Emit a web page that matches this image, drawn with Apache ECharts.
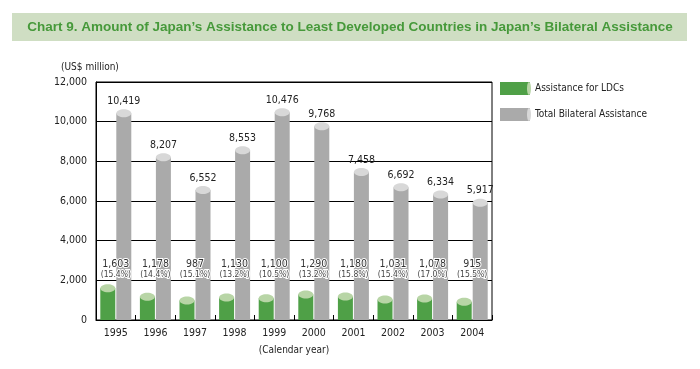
<!DOCTYPE html>
<html><head><meta charset="utf-8">
<script src="https://cdn.jsdelivr.net/npm/echarts@6/dist/echarts.min.js"></script>
<style>html,body{margin:0;padding:0;background:#fff}#c{width:700px;height:369px}</style>
</head><body><div id="c"></div>
<script>
var years = ['1995','1996','1997','1998','1999','2000','2001','2002','2003','2004'];
var ldc = [1603,1178,987,1130,1100,1290,1180,1031,1078,915];
var total = [10419,8207,6552,8553,10476,9768,7458,6692,6334,5917];
var ldcShare = ['15.4%','14.4%','15.1%','13.2%','10.5%','13.2%','15.8%','15.4%','17.0%','15.5%'];
var yTicks = [0,2000,4000,6000,8000,10000,12000];

var FONT = '"DejaVu Sans Condensed","Liberation Sans",sans-serif';
var TFONT = '"Liberation Sans",sans-serif';
var fmt = function(v){ return v.toLocaleString('en-US'); };

function cyl(offset, body, top, labelFn){
  return function(params, api){
    var i = api.value(0), v = api.value(1);
    var p = api.coord([i, v]), b = api.coord([i, 0]);
    var cx = p[0] + offset, w = 15, ry = 4;
    var kids = [
      {type:'rect', shape:{x:cx-w/2, y:p[1], width:w, height:b[1]-p[1]}, style:{fill:body}},
      {type:'ellipse', shape:{cx:cx, cy:p[1], rx:w/2, ry:ry}, style:{fill:top}}
    ];
    return {type:'group', children: kids.concat(labelFn(i, v, p, b))};
  };
}

var chart = echarts.init(document.getElementById('c'));
chart.setOption({
  animation:false,
  textStyle:{fontFamily:FONT},
  graphic:[
    {type:'rect', shape:{x:12,y:13,width:675,height:28}, style:{fill:'#cfdec3'}},
    {type:'text', x:350, y:27, style:{text:'Chart 9. Amount of Japan\u2019s Assistance to Least Developed Countries in Japan\u2019s Bilateral Assistance',
      align:'center', verticalAlign:'middle', fill:'#46993a', font:'bold 13.5px '+TFONT}},
    {type:'text', x:61, y:67, style:{text:'(US$ million)', align:'left', verticalAlign:'middle', fill:'#222', font:'10px '+FONT}},
    {type:'ellipse', z:10, shape:{cx:529, cy:88.5, rx:2, ry:6.5}, style:{fill:'#b8d5a6'}},
    {type:'ellipse', z:10, shape:{cx:529, cy:114.5, rx:2, ry:6.5}, style:{fill:'#d8d8d8'}}
  ],
  grid:{left:96, right:208, top:82, bottom:49, show:true, borderColor:'#000', borderWidth:1},
  legend:{
    orient:'vertical', left:500, top:82, padding:0, itemWidth:30, itemHeight:13, itemGap:13,
    textStyle:{fontSize:10, color:'#222', fontFamily:FONT},
    data:[{name:'Assistance for LDCs', icon:'rect', itemStyle:{color:'#4fa047'}},
          {name:'Total Bilateral Assistance', icon:'rect', itemStyle:{color:'#aaaaaa'}}]
  },
  xAxis:{
    type:'category', data:years,
    name:'(Calendar year)', nameLocation:'middle', nameGap:25,
    nameTextStyle:{fontSize:10, color:'#222', fontFamily:FONT},
    axisLine:{lineStyle:{color:'#000'}},
    axisTick:{show:true, inside:true, length:5, lineStyle:{color:'#000'}},
    axisLabel:{fontSize:10.5, color:'#222', margin:8, fontFamily:FONT}
  },
  yAxis:{
    type:'value', min:0, max:12000, interval:2000,
    axisLine:{show:true, lineStyle:{color:'#000'}},
    axisTick:{show:false},
    splitLine:{lineStyle:{color:'#000', width:1}},
    axisLabel:{fontSize:10.5, color:'#222', margin:9, fontFamily:FONT, formatter:function(v){return fmt(v);}}
  },
  series:[
    {name:'Total Bilateral Assistance', type:'custom', z:2, data:total.map(function(v,i){return [i,v];}),
     renderItem: cyl(8, '#aaaaaa', '#d8d8d8', function(i, v, p, b){
       return [{type:'text', style:{text:fmt(total[i]), x:p[0]+8, y:p[1]-12, align:'center', verticalAlign:'middle',
          fill:'#222', fontSize:10.5, fontFamily:FONT}}];
     })},
    {name:'Assistance for LDCs', type:'custom', z:3, data:ldc.map(function(v,i){return [i,v];}),
     renderItem: cyl(-8, '#4fa047', '#b8d5a6', function(i, v, p, b){
       var c = p[0];
       return [
         {type:'text', style:{text:fmt(ldc[i]), x:c, y:b[1]-56, align:'center', verticalAlign:'middle',
            fill:'#333', stroke:'#fff', lineWidth:2, fontSize:10.5, fontFamily:FONT}},
         {type:'text', style:{text:'('+ldcShare[i]+')', x:c, y:b[1]-45, align:'center', verticalAlign:'middle',
            fill:'#444', stroke:'#fff', lineWidth:2, fontSize:8.5, fontFamily:FONT}}
       ];
     })}
  ]
});
</script></body></html>
